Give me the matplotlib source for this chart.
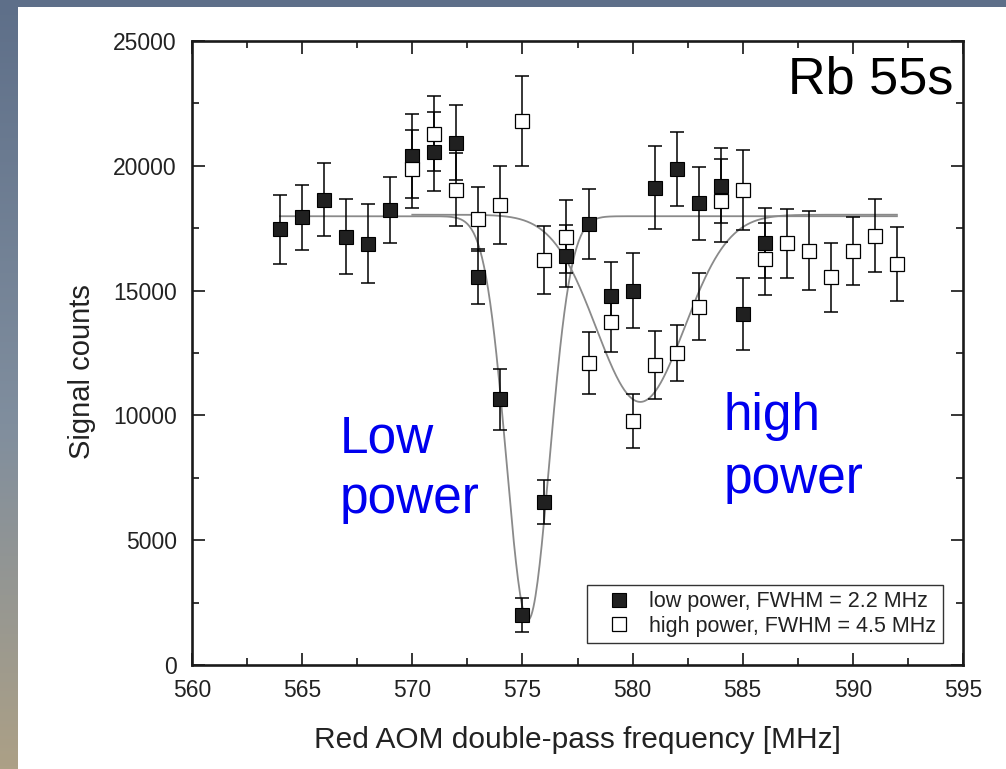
import numpy as np
import matplotlib
matplotlib.use("Agg")
import matplotlib.pyplot as plt
from matplotlib.patches import Rectangle

plt.rcParams["font.family"] = ["Liberation Sans", "DejaVu Sans"]

# ---- data ----
freq_low = [564, 565, 566, 567, 568, 569, 570, 571, 572, 573, 574, 575, 576,
            577, 578, 579, 580, 581, 582, 583, 584, 585, 586]
counts_low = [17450, 17930, 18640, 17160, 16870, 18240, 20400, 20570, 20930,
              15560, 10640, 2000, 6530, 16370, 17670, 14800, 15000, 19130,
              19870, 18500, 19200, 14070, 16910]
err_low = [1400, 1300, 1470, 1500, 1580, 1320, 1690, 1580, 1500,
           1110, 1230, 670, 900, 1240, 1390, 1330, 1500, 1650,
           1500, 1470, 1500, 1440, 1410]

freq_high = [570, 571, 572, 573, 574, 575, 576, 577, 578, 579, 580, 581, 582,
             583, 584, 585, 586, 587, 588, 589, 590, 591, 592]
counts_high = [19870, 21290, 19050, 17870, 18430, 21800, 16230, 17160, 12110,
               13730, 9770, 12030, 12510, 14360, 18600, 19020, 16270, 16890,
               16600, 15530, 16600, 17200, 16070]
err_high = [1550, 1490, 1480, 1300, 1570, 1800, 1350, 1450, 1240,
            1200, 1090, 1360, 1130, 1350, 1660, 1600, 1450, 1370,
            1570, 1380, 1360, 1470, 1490]

# gaussian fit lines (baseline, dip depth, centre, FWHM) as drawn on the slide
fit_low = dict(base=17980, depth=16180, center=575.25, fwhm=2.3, start=564, stop=592)
fit_high = dict(base=18040, depth=7500, center=580.35, fwhm=4.7, start=570, stop=592)

label_low = "low power, FWHM = 2.2 MHz"
label_high = "high power, FWHM = 4.5 MHz"


def gauss_dip(p):
    x = np.linspace(p["start"], p["stop"], 600)
    sigma = p["fwhm"] / (2 * np.sqrt(2 * np.log(2)))
    return x, p["base"] - p["depth"] * np.exp(-(x - p["center"]) ** 2 / (2 * sigma ** 2))


fig = plt.figure(figsize=(10.06, 7.69), dpi=100)

# slide background: blue-grey fading to tan at bottom left, white panel on top
bg = fig.add_axes([0, 0, 1, 1], zorder=-10)
top_c = np.array([94, 111, 137]) / 255
mid_c = np.array([128, 142, 158]) / 255
bot_c = np.array([172, 160, 134]) / 255
t = np.linspace(0, 1, 256)[:, None]
grad = np.where(t < 0.55, top_c + (mid_c - top_c) * (t / 0.55),
                mid_c + (bot_c - mid_c) * ((t - 0.55) / 0.45))
bg.imshow(grad[:, None, :], extent=[0, 1, 0, 1], aspect="auto", origin="upper")
bg.add_patch(Rectangle((18 / 1006, 0), 1, 1 - 7 / 769, color="white", lw=0))
bg.set_xlim(0, 1)
bg.set_ylim(0, 1)
bg.axis("off")

ax = fig.add_axes([192 / 1006, 1 - 665 / 769, 771 / 1006, 624 / 769])
ax.set_facecolor("none")

for p in (fit_low, fit_high):
    x, y = gauss_dip(p)
    ax.plot(x, y, color="#8a8a8a", lw=1.3, zorder=2)

ax.errorbar(freq_low, counts_low, yerr=err_low, fmt="none", ecolor="black",
            elinewidth=1.1, capsize=4.8, capthick=1.1, zorder=3)
ax.errorbar(freq_high, counts_high, yerr=err_high, fmt="none", ecolor="black",
            elinewidth=1.1, capsize=4.8, capthick=1.1, zorder=3)
ax.plot(freq_low, counts_low, "s", ms=9.5, mfc="#202020", mec="black", mew=0.8,
        label=label_low, zorder=4)
ax.plot(freq_high, counts_high, "s", ms=9.5, mfc="white", mec="black", mew=0.9,
        label=label_high, zorder=5)

ax.set_xlim(560, 595)
ax.set_ylim(0, 25000)
ax.set_xticks(np.arange(560, 596, 5))
ax.set_xticks(np.arange(562.5, 595, 5), minor=True)
ax.set_yticks(np.arange(0, 25001, 5000))
ax.set_yticks(np.arange(2500, 25000, 5000), minor=True)
ax.tick_params(which="both", direction="in", top=True, right=True,
               width=1.1, colors="black", labelcolor="#222222", labelsize=16.5)
ax.tick_params(axis="x", which="major", length=9, pad=10)
ax.tick_params(axis="y", which="major", length=9, pad=11)
ax.tick_params(which="minor", length=5)
for s in ax.spines.values():
    s.set_linewidth(1.9)
    s.set_color("#1a1a1a")

ax.set_xlabel("Red AOM double-pass frequency [MHz]", fontsize=21.5, color="#222222")
ax.xaxis.set_label_coords(0.5, -0.098)
ax.set_ylabel("Signal counts", fontsize=21, color="#222222")
ax.yaxis.set_label_coords(-0.125, 0.47)

ax.text(594.55, 22880, "Rb 55s", fontsize=37.5, ha="right", va="baseline", color="black")
blue = "#0000ee"
ax.text(566.7, 8520, "Low", fontsize=37, color=blue, ha="left", va="baseline")
ax.text(566.7, 6080, "power", fontsize=37, color=blue, ha="left", va="baseline")
ax.text(584.15, 9400, "high", fontsize=37, color=blue, ha="left", va="baseline")
ax.text(584.15, 6880, "power", fontsize=37, color=blue, ha="left", va="baseline")

leg = ax.legend(loc="lower right", bbox_to_anchor=(0.974, 0.035), borderaxespad=0,
                fontsize=15.5, frameon=True, fancybox=False, edgecolor="black",
                handlelength=2.4, handletextpad=0.2, borderpad=0.3,
                labelspacing=0.15, markerscale=1.0)
leg.get_frame().set_linewidth(1.0)
for txt in leg.get_texts():
    txt.set_color("#222222")

fig.savefig("out.png", dpi=100)
